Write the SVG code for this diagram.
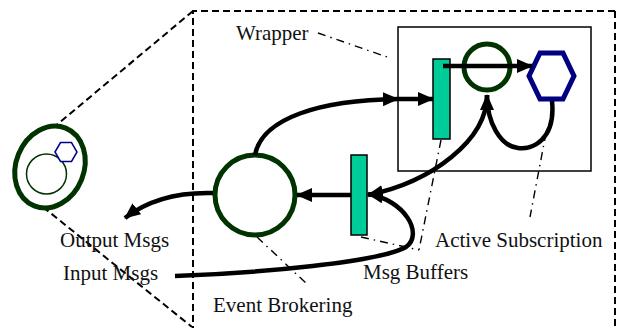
<svg xmlns="http://www.w3.org/2000/svg" width="618" height="328" viewBox="0 0 618 328">
<defs>
<marker id="ah" markerUnits="userSpaceOnUse" markerWidth="16" markerHeight="14" refX="15" refY="7" orient="auto">
<path d="M0,0 L16,7 L0,14 z" fill="#000"/>
</marker>
</defs>
<style>
.dash{fill:none;stroke:#000;stroke-width:2;stroke-dasharray:7,4}
.dd{fill:none;stroke:#000;stroke-width:1.4;stroke-dasharray:8,5,1.5,5}
.arr{fill:none;stroke:#000;stroke-width:4.5;marker-end:url(#ah)}
.proc{fill:#fff;stroke:#003300;stroke-width:5}
.buf{fill:#00CC99;stroke:#000;stroke-width:1.5}
.hex{fill:#fff;stroke:#000080;stroke-width:5}
text{font-family:"Liberation Serif","Times New Roman",serif;font-size:21px;fill:#111}
</style>
<rect width="618" height="328" fill="#fff"/>
<g id="zoom-frame">
<path class="dash" d="M615,11 L193,11 L193,328"/>
<path class="dash" d="M615,11 L615,328"/>
<path class="dash" d="M193,11 L53,128"/>
<path class="dash" d="M43,207 L192,327"/>
</g>
<g id="mini-node">
<ellipse cx="50" cy="167" rx="34" ry="42" transform="rotate(22 50 167)" fill="#fff" stroke="#003300" stroke-width="5"/>
<circle cx="46.5" cy="174" r="20" fill="none" stroke="#003300" stroke-width="1.5"/>
<polygon points="55,152 60.5,142.5 71.5,142.5 77,152 71.5,161.5 60.5,161.5" fill="#fff" stroke="#000080" stroke-width="1.5"/>
</g>
<g id="wrapper">
<rect x="398" y="27" width="193" height="144" fill="#fff" stroke="#000" stroke-width="1.5"/>
</g>
<g id="wrapper-buffer"><rect class="buf" x="433" y="59" width="17" height="80"/></g>
<g id="active-process"><circle class="proc" cx="487" cy="67" r="23"/></g>
<g id="active-subscription"><polygon class="hex" points="529,76 540,53 563,53 574,76 563,99 540,99"/></g>
<g id="broker"><circle class="proc" cx="255" cy="195" r="40"/></g>
<g id="broker-buffer"><rect class="buf" x="351" y="155" width="16" height="80"/></g>
<g id="connectors">
<path class="arr" d="M443,66 L532,66"/>
<path class="arr" d="M255,155 C262,118 320,100 398,99"/>
<path class="arr" d="M398,99 L433,99"/>
<path class="arr" d="M552,101 C556,140 532,150 518,148 C500,146 487,122 487,95"/>
<path class="arr" d="M487,95 C487,140 432,182 368,195"/>
<path class="arr" d="M351,195 L297,195"/>
<path class="arr" d="M175,276 C260,273 380,262 406,247 C424,234 405,200 368,194"/>
<path class="arr" d="M213,193 C178,192 148,200 125,218"/>
</g>
<g id="leaders">
<path class="dd" d="M318,33 L390,58"/>
<path class="dd" d="M441,140 L419,250"/>
<path class="dd" d="M361,237 L419,250"/>
<path class="dd" d="M546,133 L530,217"/>
<path class="dd" d="M257,237 L308,285"/>
</g>
<g id="labels">
<text x="236" y="40">Wrapper</text>
<text x="60" y="247">Output Msgs</text>
<text x="63" y="280">Input Msgs</text>
<text x="213" y="312">Event Brokering</text>
<text x="363" y="279">Msg Buffers</text>
<text x="435" y="247">Active Subscription</text>
</g>
</svg>
